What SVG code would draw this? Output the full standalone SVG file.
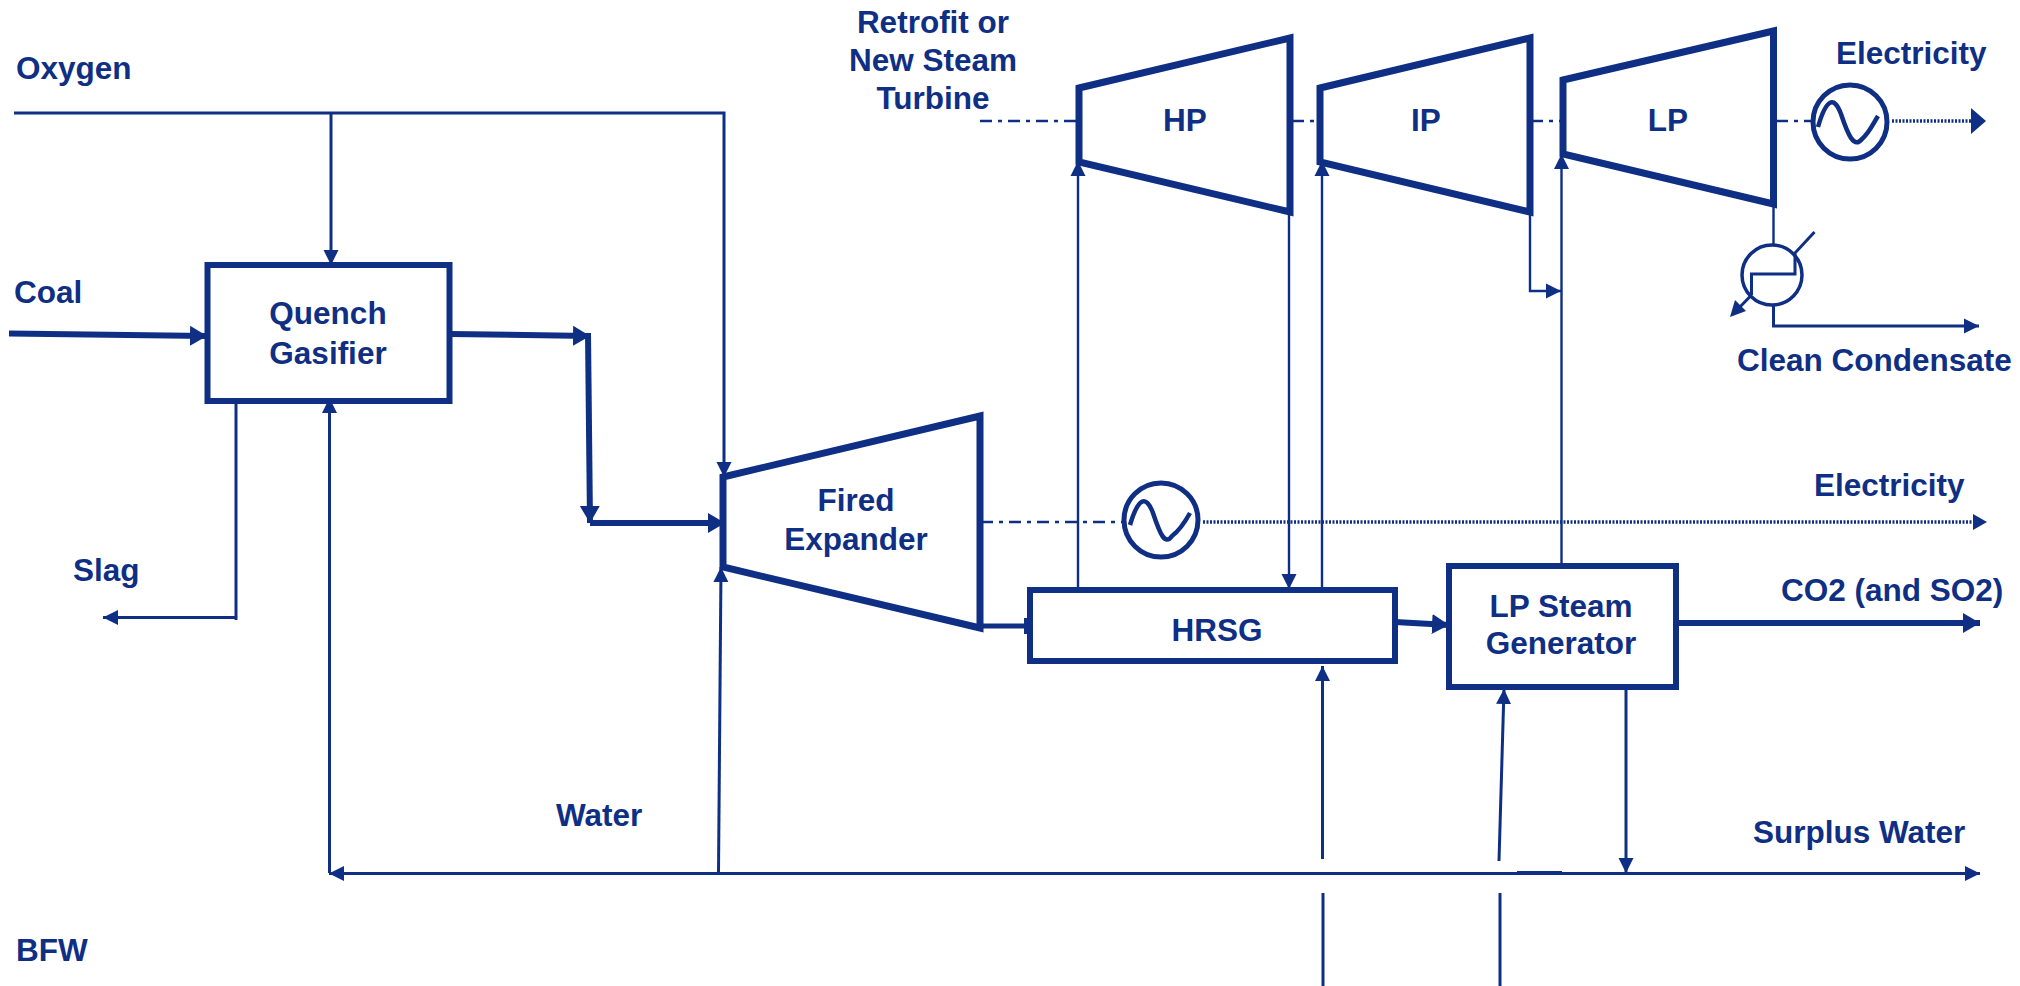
<svg xmlns="http://www.w3.org/2000/svg" width="2020" height="986" viewBox="0 0 2020 986">
<style>
text{font-family:"Liberation Sans",Arial,sans-serif;font-weight:700;font-size:31.5px;fill:#0f2f84}
.m{text-anchor:middle}
.box{fill:#fff;stroke:#0f2f84;stroke-width:6}
.tb{fill:#fff;stroke:#0f2f84;stroke-width:7;stroke-linejoin:miter}
.c{fill:none;stroke:#0f2f84}
.t{stroke-width:2.400}
.n{stroke-width:3}
.k{stroke-width:6}
.dd{stroke-width:2.500;stroke-dasharray:12 6 4 6}
.dot{stroke-width:3.500;stroke-dasharray:2 1.500}
.gen{fill:#fff;stroke:#0f2f84;stroke-width:5}
.wave{fill:none;stroke:#0f2f84;stroke-width:4.500}
</style>
<defs>
<marker id="a" markerUnits="userSpaceOnUse" markerWidth="20" markerHeight="20" refX="15" refY="8" orient="auto-start-reverse"><path d="M0 0.500L15 8L0 15.500Z" fill="#0f2f84"/></marker>
<marker id="b" markerUnits="userSpaceOnUse" markerWidth="20" markerHeight="22" refX="17" refY="10" orient="auto"><path d="M0 0L17 10L0 20Z" fill="#0f2f84"/></marker>
</defs>
<g id="connectors">
<path class="c n" d="M14 113H724V477" marker-end="url(#a)"/>
<path class="c n" d="M331 113V265" marker-end="url(#a)"/>
<path class="c k" d="M9 333.500L207 336" marker-end="url(#b)"/>
<path class="c k" d="M450 334L590 336" marker-end="url(#b)"/>
<path class="c k" d="M588 333L590 523" marker-end="url(#b)"/>
<path class="c k" d="M590 523H725" marker-end="url(#b)"/>
<path class="c n" d="M236 401V620"/>
<path class="c n" d="M235 617.500H103" marker-end="url(#a)"/>
<path class="c n" d="M329 873.500H1980" marker-start="url(#a)" marker-end="url(#a)"/>
<path class="c" stroke-width="4" d="M1517 873H1562"/>
<path class="c n" d="M329.500 873V398" marker-end="url(#a)"/>
<path class="c n" d="M718.500 873L721 567" marker-end="url(#a)"/>
<path class="c t" d="M1078 590V161" marker-end="url(#a)"/>
<path class="c t" d="M1289 212V589" marker-end="url(#a)"/>
<path class="c t" d="M1322 590V161" marker-end="url(#a)"/>
<path class="c t" d="M1561.500 567V154" marker-end="url(#a)"/>
<path class="c t" d="M1530 212V291H1561" marker-end="url(#a)"/>
<path class="c t" d="M1773.500 205V244"/>
<path class="c n" d="M1773.500 306V326H1979" marker-end="url(#a)"/>
<path class="c" stroke-width="5" d="M980 626H1030"/>
<path d="M1024 618H1030V634H1024Z" fill="#0f2f84"/>
<path class="c k" d="M1395 622L1449 625" marker-end="url(#b)"/>
<path class="c k" d="M1676 623H1980" marker-end="url(#b)"/>
<path class="c n" d="M1322.500 859V666" marker-end="url(#a)"/>
<path class="c n" d="M1323 893V986"/>
<path class="c n" d="M1499 861L1504 689" marker-end="url(#a)"/>
<path class="c n" d="M1500 893V986"/>
<path class="c n" d="M1626 687V873" marker-end="url(#a)"/>
<path class="c dd" d="M980 121H1080"/>
<path class="c dd" d="M1292 121H1320"/>
<path class="c dd" d="M1531 121H1563"/>
<path class="c dd" d="M1776 121H1812"/>
<path class="c dot" d="M1892 121H1975"/>
<path d="M1971 108L1986 121L1971 134Z" fill="#0f2f84"/>
<path class="c dd" d="M981 522H1122"/>
<path class="c dot" d="M1203 522H1975"/>
<path d="M1973 514L1987 522L1973 530Z" fill="#0f2f84"/>
</g>
<g id="quench-gasifier"><rect class="box" x="207.500" y="265" width="242" height="136"/><text class="m" x="328" y="324">Quench</text><text class="m" x="328" y="364">Gasifier</text></g>
<g id="fired-expander"><path class="tb" d="M723 477L980 416V628L723 567Z"/><text class="m" x="856" y="511">Fired</text><text class="m" x="856" y="550">Expander</text></g>
<g id="hrsg"><rect class="box" x="1030" y="590" width="365" height="71"/><text class="m" x="1217" y="641">HRSG</text></g>
<g id="lp-steam-generator"><rect class="box" x="1449" y="566" width="227" height="121"/><text class="m" x="1561" y="617">LP Steam</text><text class="m" x="1561" y="654">Generator</text></g>
<g id="hp"><path class="tb" d="M1079 88L1290 38V212L1079 162Z"/><text class="m" x="1185" y="131">HP</text></g>
<g id="ip"><path class="tb" d="M1320 88L1530 38V212L1320 162Z"/><text class="m" x="1426" y="131">IP</text></g>
<g id="lp"><path class="tb" d="M1563 80L1773.500 31V204L1563 154Z"/><text class="m" x="1668" y="131">LP</text></g>
<g id="generator-1"><circle class="gen" cx="1850" cy="122" r="37"/><path class="wave" d="M1818 127C1826 99 1834 95 1841 114C1848 135 1854 149 1862 139C1869 133 1873 124 1878 116"/></g>
<g id="generator-2"><circle class="gen" cx="1161" cy="520" r="37"/><path class="wave" d="M1130 525C1138 498 1146 494 1153 513C1160 534 1165 546 1172 536C1180 530 1185 522 1190 513"/></g>
<g id="condenser"><circle cx="1772" cy="275" r="30" fill="#fff" stroke="#0f2f84" stroke-width="3.500"/><path class="c n" d="M1814.500 232L1795 253V274H1751.500V295" stroke-linejoin="miter"/><path class="c n" d="M1751.500 295L1736 311"/><path d="M1730 317L1735 300L1746 311Z" fill="#0f2f84"/></g>
<g id="labels">
<text x="16" y="79">Oxygen</text>
<text x="14" y="303">Coal</text>
<text x="73" y="581">Slag</text>
<text x="556" y="826">Water</text>
<text x="16" y="961">BFW</text>
<text class="m" x="933" y="33">Retrofit or</text>
<text class="m" x="933" y="71">New Steam</text>
<text class="m" x="933" y="109">Turbine</text>
<text x="1836" y="64">Electricity</text>
<text x="1814" y="496">Electricity</text>
<text x="1781" y="601">CO2 (and SO2)</text>
<text x="1753" y="843">Surplus Water</text>
<text x="1737" y="371">Clean Condensate</text>
</g>
</svg>
